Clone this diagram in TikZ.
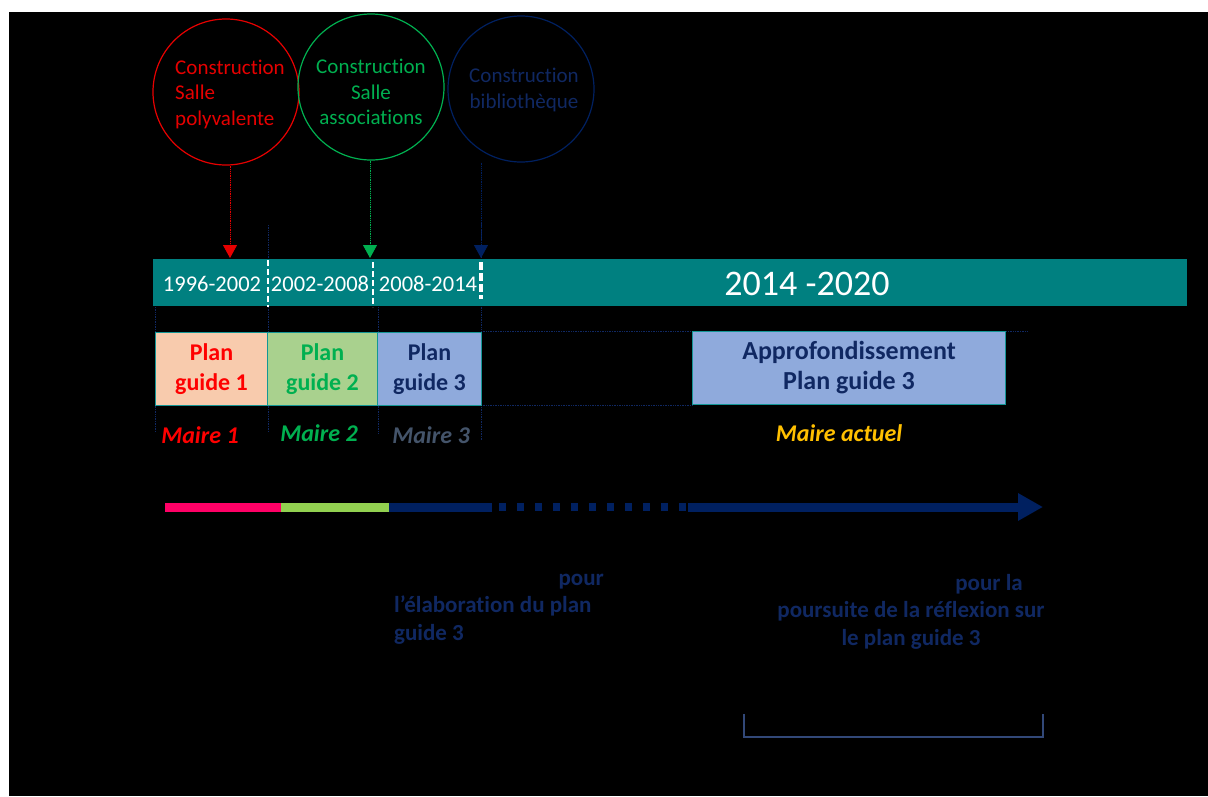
\documentclass[tikz,border=0pt]{standalone}
\usepackage{fontspec}
\setmainfont{Carlito}[Ligatures=NoCommon]
\usetikzlibrary{arrows.meta}
\definecolor{tealbar}{RGB}{0,128,128}
\definecolor{boxborder}{RGB}{20,150,150}
\definecolor{peach}{RGB}{248,203,173}
\definecolor{lgreen}{RGB}{169,209,142}
\definecolor{lblue}{RGB}{143,170,220}
\definecolor{cred}{RGB}{230,0,0}
\definecolor{bred}{RGB}{255,0,0}
\definecolor{cgreen}{RGB}{0,176,80}
\definecolor{navytext}{RGB}{16,40,98}
\definecolor{navyarrow}{RGB}{0,32,96}
\definecolor{mgray}{RGB}{68,84,106}
\definecolor{gold}{RGB}{255,192,0}
\definecolor{pinkline}{RGB}{255,0,102}
\definecolor{limeline}{RGB}{146,208,80}
\definecolor{bracketcol}{RGB}{50,72,120}
\begin{document}
\begin{tikzpicture}[x=1pt,y=-1pt,
  circ/.style={circle, draw, line width=1.2pt, minimum size=146pt, inner sep=0pt},
  circtext/.style={align=center, inner sep=0pt, font=\fontsize{21}{25.5}\selectfont},
  yr/.style={text=white, font=\fontsize{22.5}{26}\selectfont, inner sep=0pt},
  planbox/.style={draw=boxborder, line width=1pt, anchor=north west, minimum height=73pt, inner sep=0pt, align=center, font=\bfseries\fontsize{24}{30}\selectfont},
  maire/.style={font=\bfseries\itshape\fontsize{24}{28}\selectfont, inner sep=0pt},
  note/.style={text=navytext, font=\bfseries\fontsize{23}{27.5}\selectfont, inner sep=0pt},
  faint/.style={draw=navytext, densely dotted, line width=0.7pt},
  dropline/.style={densely dotted, line width=0.8pt, -{Triangle[width=14pt,length=13pt]}},
  whitedash/.style={draw=white, line width=1.5pt, dash pattern=on 6pt off 3pt},
  tl/.style={line width=9pt}
]
\useasboundingbox (0,0) rectangle (1208,796);
\fill[white] (0,0) rectangle (1208,796);
\fill[black] (9,12) rectangle (1208,796);

% circles
\node[circ, draw=cred] (c1) at (226,92) {};
\node[circtext, text=cred, align=left] (c1t) at ([xshift=4pt,yshift=-2pt]c1.center) {Construction\\Salle\\polyvalente};
\node[circ, draw=cgreen] (c2) at (371,87) {};
\node[circtext, text=cgreen] (c2t) at ([yshift=-5pt]c2.center) {Construction\\Salle\\associations};
\node[circ, draw=navyarrow] (c3) at (521,89) {};
\node[circtext, text=navytext] (c3t) at ([xshift=3pt,yshift=-1pt]c3.center) {Construction\\bibliothèque};

% faint guide lines
\coordinate (g1a) at (155,307); \coordinate (g1b) at (155,432);
\coordinate (g2a) at (268,225); \coordinate (g2b) at (268,259);
\coordinate (g2c) at (268,307); \coordinate (g2d) at (268,432);
\coordinate (g3a) at (378,307); \coordinate (g3b) at (378,433);
\coordinate (g4a) at (481,220); \coordinate (g4b) at (481,440);
\coordinate (h1a) at (481,331); \coordinate (h1b) at (1027,331);
\coordinate (h2a) at (481,405); \coordinate (h2b) at (692,405);
\draw[faint] (g1a) -- (g1b);
\draw[faint] (g2a) -- (g2b);
\draw[faint] (g2c) -- (g2d);
\draw[faint] (g3a) -- (g3b);
\draw[faint] (g4a) -- (g4b);
\draw[faint] (h1a) -- (h1b);
\draw[faint] (h2a) -- (h2b);

% teal bar
\node[fill=tealbar, anchor=north west, minimum width=1034pt, minimum height=47pt, inner sep=0pt] (bar) at (153,259) {};

% drop arrows
\coordinate (a1) at (230,258);
\coordinate (a2) at (370,258);
\coordinate (a3) at (481,258);
\draw[dropline, draw=cred, fill=bred] (c1.south -| a1) -- (a1);
\draw[dropline, draw=cgreen, fill=cgreen] (c2.south -| a2) -- (a2);
\draw[dropline, draw=navyarrow, fill=navyarrow] (c3.south -| a3) -- (a3);

% white separators
\coordinate (s1a) at (268,260); \coordinate (s1b) at (268,307);
\coordinate (s2a) at (373,262); \coordinate (s2b) at (373,307);
\coordinate (s3a) at (481,262); \coordinate (s3b) at (481,299);
\draw[whitedash] (s1a) -- (s1b);
\draw[whitedash] (s2a) -- (s2b);
\draw[whitedash, line width=3.5pt, dash pattern=on 8pt off 3pt] (s3a) -- (s3b);

% year labels
\node[yr] (y1) at (212,284) {1996-2002};
\node[yr] (y2) at (320,284) {2002-2008};
\node[yr] (y3) at (428,284) {2008-2014};
\node[text=white, font=\fontsize{36}{40}\selectfont, inner sep=0pt] (y4) at (807,284) {2014 -2020};

% plan boxes
\node[planbox, fill=peach, text=bred, minimum width=112pt] (p1) at (155,332) {Plan\\guide 1};
\node[planbox, fill=lgreen, text=cgreen, minimum width=110pt] (p2) at (267,332) {Plan\\guide 2};
\node[planbox, fill=lblue, text=navytext, minimum width=104pt] (p3) at (377,332) {Plan\\guide 3};
\node[planbox, fill=lblue, text=navytext, minimum width=313pt, font=\bfseries\fontsize{26}{30}\selectfont] (p4) at (692,331) {Approfondissement\\Plan guide 3};

% maires
\node[maire, text=bred] (m1) at (200,435) {Maire 1};
\node[maire, text=cgreen] (m2) at (319,433) {Maire 2};
\node[maire, text=mgray] (m3) at (431,435) {Maire 3};
\node[maire, text=gold] (m4) at (839,433) {Maire actuel};

% timeline
\coordinate (t0) at (165,507);
\coordinate (t1) at (281,507);
\coordinate (t2) at (389,507);
\coordinate (t3) at (492,507);
\coordinate (t4) at (688,507);
\coordinate (t5) at (1043,507);
\draw[tl, pinkline] (t0) -- (t1);
\draw[tl, limeline] (t1) -- (t2);
\draw[tl, navyarrow] (t2) -- (t3);
\draw[tl, navyarrow, line width=8pt, dash pattern=on 7pt off 11pt] ([xshift=7pt]t3) -- (t4);
\draw[tl, navyarrow, -{Triangle[width=26pt,length=25pt]}] (t4) -- (t5);

% notes
\node[note, anchor=base east] (n1) at (604,585) {pour};
\node[note, anchor=base west] (n2) at (394,612) {l’élaboration du plan};
\node[note, anchor=base west] (n3) at (394,640) {guide 3};
\node[note, anchor=base east] (n4) at (1023,590) {pour la};
\node[note, anchor=base] (n5) at (911,617) {poursuite de la réflexion sur};
\node[note, anchor=base] (n6) at (911,645) {le plan guide 3};

% bracket
\coordinate (b1) at (744,714);
\coordinate (b2) at (744,737);
\coordinate (b3) at (1043,737);
\coordinate (b4) at (1043,714);
\draw[bracketcol, line width=1.5pt] (b1) -- (b2) -- (b3) -- (b4);
\end{tikzpicture}
\end{document}
